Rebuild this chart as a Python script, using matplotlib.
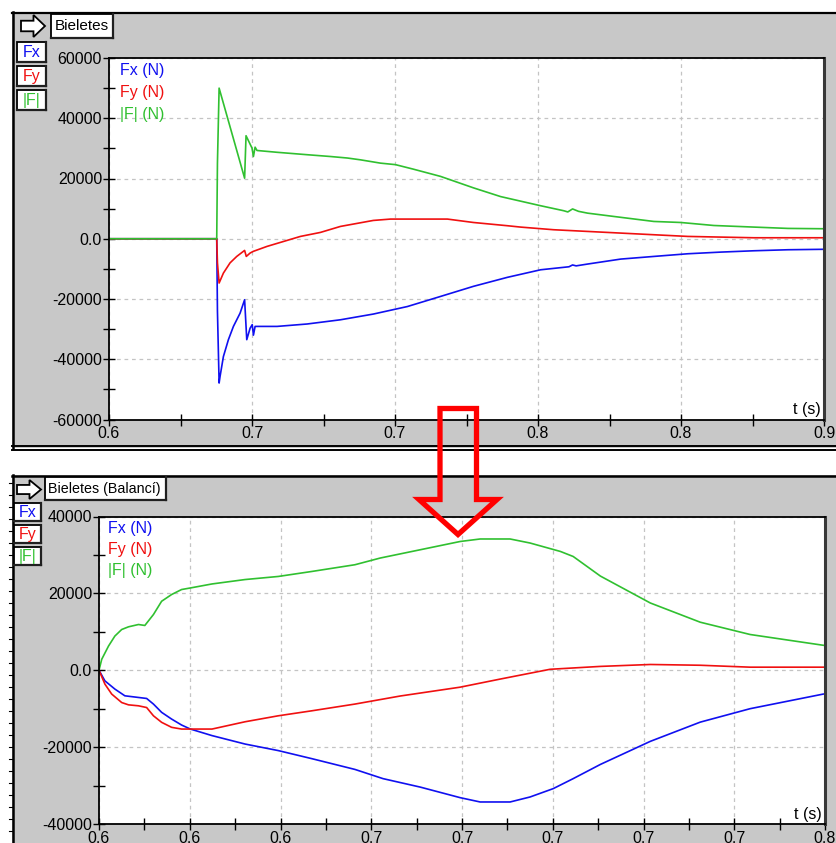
import numpy as np
import matplotlib
matplotlib.use("Agg")
import matplotlib.pyplot as plt
from matplotlib.patches import Rectangle, Polygon
from matplotlib.lines import Line2D
from matplotlib.ticker import AutoMinorLocator

plt.rcParams['font.family'] = ['Liberation Sans', 'DejaVu Sans']

# ---------------- data: "Bieletes" ----------------
t_fx_top = [0.600, 0.6452, 0.6455, 0.6462, 0.6466, 0.6480, 0.6501, 0.6522, 0.6550,
            0.6569, 0.6578, 0.6592, 0.6601, 0.6606, 0.6613, 0.6705, 0.6831, 0.6971,
            0.7109, 0.7252, 0.7391, 0.7529, 0.7672, 0.7811, 0.7930, 0.7945, 0.7960,
            0.8008, 0.8147, 0.8286, 0.8429, 0.8567, 0.8706, 0.8849, 0.9000]
fx_top = [0, 0, -24000, -47900, -45700, -39100, -33500, -29100, -24700,
          -20250, -33500, -29700, -28500, -32000, -29100, -29100, -28300, -26900,
          -25000, -22500, -19150, -15800, -12800, -10300, -9300, -8700, -9000,
          -8400, -6750, -5870, -4980, -4430, -3990, -3650, -3500]

t_fy_top = [0.600, 0.6452, 0.6455, 0.6462, 0.6480, 0.6508, 0.6536, 0.6569, 0.6576,
            0.6592, 0.6605, 0.6663, 0.6803, 0.6887, 0.6971, 0.7109, 0.7181, 0.7420,
            0.7529, 0.7672, 0.7727, 0.7866, 0.8008, 0.8147, 0.8286, 0.8429, 0.8706,
            0.9000]
fy_top = [0, 0, -8000, -14700, -11400, -8000, -5870, -3870, -5870,
          -4750, -4200, -2540, 770, 2100, 4090, 6080, 6530, 6530,
          5400, 4320, 3870, 2990, 2430, 1880, 1330, 770, 330,
          330]

t_f_top = [0.600, 0.6452, 0.6455, 0.6462, 0.6569, 0.6575, 0.6600, 0.6606, 0.6613,
           0.6621, 0.6705, 0.6831, 0.6929, 0.7000, 0.7055, 0.7139, 0.7202, 0.7277,
           0.7391, 0.7529, 0.7643, 0.7811, 0.7908, 0.7925, 0.7945, 0.7970, 0.8008,
           0.8118, 0.8286, 0.8399, 0.8538, 0.8706, 0.8849, 0.9000]
f_top = [0, 0, 25100, 50000, 20100, 34200, 30100, 27300, 30400,
         29300, 28700, 27900, 27300, 26800, 26200, 25100, 24600, 23100,
         20700, 16900, 14000, 10960, 9300, 8900, 9900, 9100, 8500,
         7400, 5740, 5400, 4400, 3870, 3430, 3320]

# ---------------- data: "Bieletes (Balancí)" ----------------
t_fx_bot = [0.6000, 0.6013, 0.6035, 0.6057, 0.6087, 0.6105, 0.6120, 0.6138, 0.6160,
            0.6182, 0.6201, 0.6249, 0.6322, 0.6395, 0.6469, 0.6564, 0.6626, 0.6708,
            0.6796, 0.6840, 0.6906, 0.6950, 0.7001, 0.7045, 0.7105, 0.7215, 0.7325,
            0.7435, 0.7596]
fx_bot = [0, -2760, -4900, -6650, -7080, -7340, -8800, -10950, -12700,
          -14250, -15280, -17000, -19200, -20900, -23000, -25800, -28200, -30400,
          -33150, -34270, -34270, -32970, -30800, -28200, -24500, -18500, -13500,
          -10000, -6200]

t_fy_bot = [0.6000, 0.6013, 0.6028, 0.6050, 0.6065, 0.6087, 0.6105, 0.6120, 0.6138,
            0.6160, 0.6182, 0.6249, 0.6322, 0.6395, 0.6469, 0.6564, 0.6664, 0.6796,
            0.6884, 0.6994, 0.7105, 0.7215, 0.7325, 0.7435, 0.7596]
fy_bot = [0, -3600, -6200, -8400, -9000, -9250, -9700, -11850, -13550,
          -14850, -15300, -15300, -13400, -11850, -10550, -8800, -6700, -4400,
          -2300, 250, 1000, 1500, 1300, 800, 800]

t_f_bot = [0.6000, 0.6006, 0.6021, 0.6035, 0.6050, 0.6065, 0.6087, 0.6101, 0.6120,
           0.6138, 0.6160, 0.6182, 0.6201, 0.6249, 0.6322, 0.6395, 0.6469, 0.6564,
           0.6620, 0.6796, 0.6840, 0.6906, 0.6950, 0.7017, 0.7045, 0.7105, 0.7215,
           0.7325, 0.7435, 0.7596]
f_bot = [0, 2850, 6300, 8900, 10600, 11300, 11900, 11650, 14500,
         17950, 19700, 21000, 21400, 22450, 23600, 24400, 25700, 27450,
         29200, 33500, 34150, 34150, 33100, 30900, 29600, 24500, 17500,
         12500, 9300, 6500]

# ---------------- axis ticks ----------------
xticks_top = [0.60, 0.66, 0.72, 0.78, 0.84, 0.90]
xlabels_top = ['0.6', '0.7', '0.7', '0.8', '0.8', '0.9']
yticks_top = [-60000, -40000, -20000, 0, 20000, 40000, 60000]
ylabels_top = ['-60000', '-40000', '-20000', '0.0', '20000', '40000', '60000']

xticks_bot = [0.60, 0.62, 0.64, 0.66, 0.68, 0.70, 0.72, 0.74, 0.76]
xlabels_bot = ['0.6', '0.6', '0.6', '0.7', '0.7', '0.7', '0.7', '0.7', '0.8']
yticks_bot = [-40000, -20000, 0, 20000, 40000]
ylabels_bot = ['-40000', '-20000', '0.0', '20000', '40000']

series_names = ['Fx', 'Fy', '|F|']
series_labels = ['Fx (N)', 'Fy (N)', '|F| (N)']
series_colors = ['#1010f0', '#f01010', '#30c030']

# ---------------- figure helpers (pixel coordinates, origin top-left) ----------------
W, H = 836, 843
GRAY = '#c8c8c8'
FS = 11.5
fig = plt.figure(figsize=(W / 100, H / 100), dpi=100)
fig.patch.set_facecolor('white')


def P(x, y):
    return (x / W, 1 - y / H)


def rect(x0, y0, x1, y1, **kw):
    r = Rectangle(P(x0, y1), (x1 - x0) / W, (y1 - y0) / H,
                  transform=fig.transFigure, **kw)
    fig.add_artist(r)
    return r


def hline(x0, x1, y, **kw):
    fig.add_artist(Line2D([x0 / W, x1 / W], [1 - y / H, 1 - y / H],
                          transform=fig.transFigure, **kw))


def vline(x, y0, y1, **kw):
    fig.add_artist(Line2D([x / W, x / W], [1 - y0 / H, 1 - y1 / H],
                          transform=fig.transFigure, **kw))


def arrow_icon(x0, x1, ytop, ybot):
    """Small hollow right-pointing arrow used on the window header."""
    ym = (ytop + ybot) / 2
    h = ybot - ytop
    xb = x0 + (x1 - x0) * 0.52
    pts = [(x0, ym - h * 0.24), (xb, ym - h * 0.24), (xb, ytop), (x1, ym),
           (xb, ybot), (xb, ym + h * 0.24), (x0, ym + h * 0.24)]
    fig.add_artist(Polygon([P(*p) for p in pts], closed=True, transform=fig.transFigure,
                           facecolor='white', edgecolor='black', lw=1.3, zorder=2))


def button(x0, y0, x1, y1, label, color='black', ha='left', fs=FS):
    rect(x0, y0, x1, y1, facecolor='white', edgecolor='black', lw=1.3, zorder=2)
    # darker lower/right rim
    hline(x0, x1, y1, color='#202020', lw=1.6, zorder=3)
    vline(x1, y0, y1, color='#202020', lw=1.6, zorder=3)
    if ha == 'left':
        fig.text(*P(x0 + 3.5, (y0 + y1) / 2 + 0.5), label, ha='left', va='center',
                 fontsize=fs, color=color, zorder=4)
    else:
        fig.text(*P((x0 + x1) / 2, (y0 + y1) / 2 + 0.5), label, ha='center', va='center',
                 fontsize=fs, color=color, zorder=4)


def style_axes(ax, xlim, ylim, xt, xl, yt, yl):
    ax.set_facecolor('white')
    ax.set_xlim(*xlim)
    ax.set_ylim(*ylim)
    ax.set_xticks(xt)
    ax.set_xticklabels(xl)
    ax.set_yticks(yt)
    ax.set_yticklabels(yl)
    ax.xaxis.set_minor_locator(AutoMinorLocator(2))
    ax.yaxis.set_minor_locator(AutoMinorLocator(2))
    ax.tick_params(which='both', direction='inout', length=8, width=1.0,
                   color='black', labelsize=FS, pad=1, top=False, right=False)
    ax.grid(True, which='major', color='#c4c4c4', linestyle=(0, (3, 3)), linewidth=0.9)
    ax.set_axisbelow(True)
    for s in ('left', 'bottom', 'top'):
        ax.spines[s].set_color('black')
        ax.spines[s].set_linewidth(1.3)
    ax.spines['right'].set_color('#383838')
    ax.spines['right'].set_linewidth(2.2)
    ax.annotate('t (s)', xy=(1, 0), xycoords='axes fraction', xytext=(-2.5, 1.5),
                textcoords='offset points', ha='right', va='bottom', fontsize=FS)


def inline_labels(ax, dx, dy0, step):
    for i, (lab, col) in enumerate(zip(series_labels, series_colors)):
        ax.annotate(lab, xy=(0, 1), xycoords='axes fraction',
                    xytext=(dx * 0.72, -(dy0 + i * step) * 0.72),
                    textcoords='offset points', ha='left', va='center',
                    fontsize=FS, color=col)


# ---------------- upper window ----------------
rect(12, 12, 860, 448, facecolor=GRAY, edgecolor='none', zorder=-2)
hline(12, 836, 12.5, color='black', lw=1.6, zorder=-1)
vline(12.5, 12, 448, color='black', lw=1.8, zorder=-1)
hline(12, 836, 445.5, color='black', lw=1.4, zorder=-1)
hline(12, 836, 449.5, color='black', lw=1.4, zorder=-1)
arrow_icon(21, 45, 15, 37)
button(51, 14, 113, 38, 'Bieletes', fs=11)
for i, (nm, col) in enumerate(zip(series_names, series_colors)):
    button(17, 42 + 24 * i, 46, 62 + 24 * i, nm, color=col, ha='center')

ax1 = fig.add_axes([109 / W, 1 - 419.5 / H, (824 - 109) / W, (419.5 - 58) / H])
style_axes(ax1, (0.6, 0.9), (-60000, 60000), xticks_top, xlabels_top, yticks_top, ylabels_top)
ax1.plot(t_fx_top, fx_top, color=series_colors[0], lw=1.2)
ax1.plot(t_fy_top, fy_top, color=series_colors[1], lw=1.2)
ax1.plot(t_f_top, f_top, color=series_colors[2], lw=1.2)
inline_labels(ax1, 11, 13, 22)

# ---------------- lower window ----------------
rect(12, 475, 860, 860, facecolor=GRAY, edgecolor='none', zorder=-2)
hline(12, 836, 475.5, color='black', lw=1.8, zorder=-1)
vline(12.5, 475, 843, color='black', lw=1.8, zorder=-1)
for yy in range(483, 843, 12):
    hline(9, 12, yy, color='black', lw=0.8, zorder=-1)
arrow_icon(17, 41, 480, 499)
button(45, 477, 166, 500, 'Bieletes (Balancí)', fs=10.3)
for i, (nm, col) in enumerate(zip(series_names, series_colors)):
    button(14, 503 + 22 * i, 41, 521 + 22 * i, nm, color=col, ha='center')

ax2 = fig.add_axes([99 / W, 1 - 824 / H, (825 - 99) / W, (824 - 516.5) / H])
style_axes(ax2, (0.6, 0.76), (-40000, 40000), xticks_bot, xlabels_bot, yticks_bot, ylabels_bot)
ax2.plot(t_fx_bot, fx_bot, color=series_colors[0], lw=1.2)
ax2.plot(t_fy_bot, fy_bot, color=series_colors[1], lw=1.2)
ax2.plot(t_f_bot, f_bot, color=series_colors[2], lw=1.2)
inline_labels(ax2, 9, 11.5, 21.5)

# ---------------- big hollow red arrow linking the two windows ----------------
arrow_pts = [(440, 408.5), (476.5, 408.5), (476.5, 499.5), (497, 499.5),
             (458, 534.5), (419, 499.5), (440, 499.5)]
fig.add_artist(Polygon([P(*p) for p in arrow_pts], closed=True, transform=fig.transFigure,
                       facecolor='none', edgecolor='#ff0000', lw=3.8,
                       joinstyle='miter', zorder=10))

fig.savefig('out.png', dpi=100)
